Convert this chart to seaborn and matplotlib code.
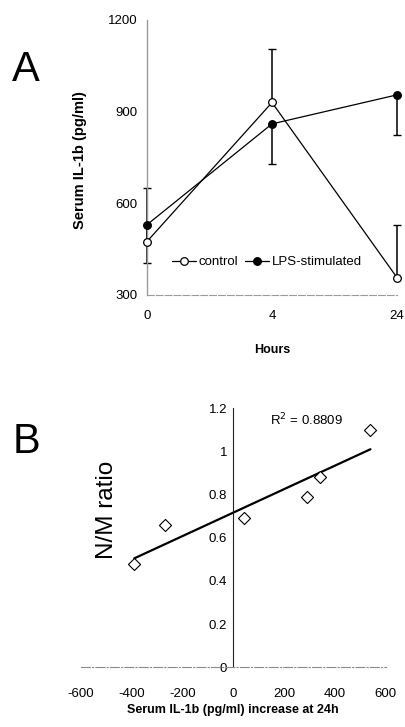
import numpy as np
import pandas as pd
import matplotlib
matplotlib.use("Agg")
import matplotlib.pyplot as plt
import seaborn as sns

# Panel A: serum IL-1b over time
hours = ["0", "4", "24"]
control = [475, 930, 357]
control_err = [175, 175, 172]
lps = [530, 860, 955]
lps_err = [125, 130, 130]

# Panel B: N/M ratio vs IL-1b increase
il1b_increase = [-390, -270, 40, 290, 340, 540]
nm_ratio = [0.48, 0.66, 0.69, 0.79, 0.88, 1.10]

sns.set_theme(style="white")
plt.rcParams["font.family"] = ["Liberation Sans", "DejaVu Sans"]
plt.rcParams["text.color"] = "black"
plt.rcParams["axes.unicode_minus"] = False
narrow = ["Liberation Sans Narrow", "Liberation Sans", "DejaVu Sans"]

fig = plt.figure(figsize=(4.05, 7.27), dpi=100)

# ---- Panel A ----
ax = fig.add_axes([147 / 405, 1 - 295 / 727, 250 / 405, 275 / 727])
df = pd.DataFrame({
    "pos": list(range(len(hours))) * 2,
    "value": control + lps,
    "group": ["control"] * 3 + ["LPS-stimulated"] * 3,
})
sns.lineplot(data=df, x="pos", y="value", hue="group", style="group",
             markers=["o", "o"], dashes=False, palette=["black", "black"],
             markersize=5.5, linewidth=0.9, ax=ax, legend=False, clip_on=False)
line_c, line_l = ax.lines[0], ax.lines[1]
line_c.set_markerfacecolor("white")
for ln in (line_c, line_l):
    ln.set_markeredgecolor("black")
    ln.set_markeredgewidth(0.9)
    ln.set_zorder(5)

pos = np.arange(len(hours))
ax.errorbar(pos, control, yerr=[np.zeros(3), control_err], fmt="none",
            ecolor="black", elinewidth=1.1, capsize=3, capthick=1, clip_on=False)
ax.errorbar(pos, lps, yerr=[lps_err, np.zeros(3)], fmt="none",
            ecolor="black", elinewidth=1.1, capsize=3, capthick=1, clip_on=False)

ax.set_xlim(0, 2)
ax.set_ylim(300, 1200)
ax.set_xticks(pos)
ax.set_xticklabels(hours)
ax.set_yticks([300, 600, 900, 1200])
ax.set_xlabel("")
ax.set_ylabel("")
for s in ["top", "right"]:
    ax.spines[s].set_visible(False)
ax.spines["left"].set_color("#9a9a9a")
ax.spines["left"].set_linewidth(1.0)
ax.spines["bottom"].set_color("#9a9a9a")
ax.spines["bottom"].set_linewidth(0.8)
ax.spines["bottom"].set_linestyle((0, (6, 2)))
ax.tick_params(axis="both", labelsize=9.5, colors="black")
ax.tick_params(axis="y", direction="out", length=3, width=0.6, pad=4, color="#777777")
ax.tick_params(axis="x", direction="inout", length=5, width=0.6, pad=8, color="#777777")

ax.legend([line_c, line_l], ["control", "LPS-stimulated"], ncol=2, frameon=False,
          loc="center", bbox_to_anchor=((267 - 147) / 250, (295 - 262) / 275),
          fontsize=9.5, handlelength=1.8, handletextpad=0.2, columnspacing=0.5,
          borderpad=0, markerscale=1.0)

fig.text(12 / 405, 1 - 80.7 / 727, "A", fontsize=30, va="baseline", ha="left")
fig.text(80 / 405, 1 - 160 / 727, "Serum IL-1b (pg/ml)", rotation=90,
         fontsize=10.5, fontweight="bold", ha="center", va="center", family=narrow)
fig.text(272 / 405, 1 - 350 / 727, "Hours", fontsize=9, fontweight="bold",
         ha="center", va="center")

# ---- Panel B ----
bx = fig.add_axes([81 / 405, 1 - 667.3 / 727, 304.7 / 405, 259 / 727])
sns.scatterplot(x=il1b_increase, y=nm_ratio, marker="D", s=38, facecolor="white",
                edgecolor="black", linewidth=0.8, ax=bx, zorder=4)
sns.regplot(x=il1b_increase, y=nm_ratio, scatter=False, ci=None, color="black",
            line_kws={"linewidth": 1.6}, ax=bx)
bx.set_xlim(-600, 600)
bx.set_ylim(0, 1.2)
bx.set_xticks([-600, -400, -200, 0, 200, 400, 600])
bx.set_yticks([0, 0.2, 0.4, 0.6, 0.8, 1.0, 1.2])
bx.set_yticklabels(["0", "0.2", "0.4", "0.6", "0.8", "1", "1.2"])
bx.set_xlabel("")
bx.set_ylabel("")
for s in ["top", "right"]:
    bx.spines[s].set_visible(False)
bx.spines["left"].set_position(("data", 0))
bx.spines["left"].set_color("#222222")
bx.spines["left"].set_linewidth(0.8)
bx.spines["bottom"].set_color("#8a8a8a")
bx.spines["bottom"].set_linewidth(0.8)
bx.spines["bottom"].set_linestyle((0, (8, 2, 1, 2)))
bx.tick_params(axis="both", labelsize=9.5, colors="black")
bx.tick_params(axis="y", direction="out", length=3, width=0.6, pad=1.5, color="#555555")
bx.tick_params(axis="x", direction="out", length=3, width=0.6, pad=12, color="#888888")
for lab in bx.get_xticklabels() + bx.get_yticklabels():
    lab.set_family(narrow)

fig.text(13 / 405, 1 - 453 / 727, "B", fontsize=30, va="baseline", ha="left")
fig.text(107 / 405, 1 - 510 / 727, "N/M ratio", rotation=90, fontsize=17.5,
         ha="center", va="center")
fig.text(270 / 405, 1 - 420 / 727, r"R$^2$ = 0.8809", fontsize=9.5,
         ha="left", va="center", family=narrow)
fig.text(233 / 405, 1 - 710 / 727, "Serum IL-1b (pg/ml) increase at 24h",
         fontsize=9, fontweight="bold", ha="center", va="center", family=narrow)

fig.savefig("out.png", dpi=100)
